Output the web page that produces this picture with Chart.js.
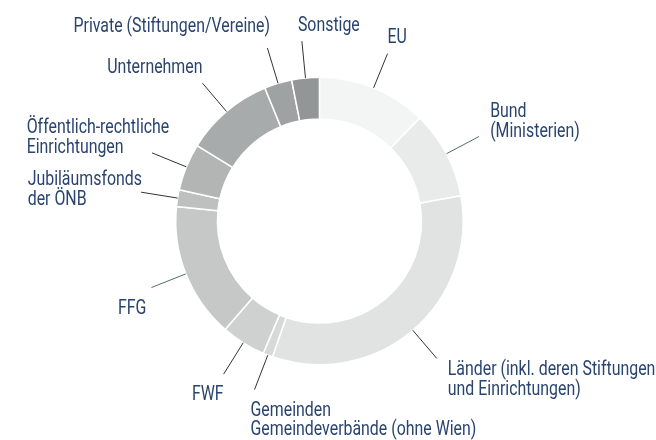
<!DOCTYPE html>
<html>
<head>
<meta charset="utf-8">
<script src="https://cdn.jsdelivr.net/npm/chart.js@4.4.1/dist/chart.umd.min.js"></script>
<style>
  html, body { margin: 0; padding: 0; background: #ffffff; }
  #wrap { width: 656px; height: 440px; position: relative; }
</style>
</head>
<body>
<div id="wrap"><canvas id="c" width="656" height="440"></canvas></div>
<script>
// ---- data ----
const categories = [
  "EU",
  "Bund (Ministerien)",
  "Länder (inkl. deren Stiftungen und Einrichtungen)",
  "Gemeinden Gemeindeverbände (ohne Wien)",
  "FWF",
  "FFG",
  "Jubiläumsfonds der ÖNB",
  "Öffentlich-rechtliche Einrichtungen",
  "Unternehmen",
  "Private (Stiftungen/Vereine)",
  "Sonstige"
];
const labelLines = [
  ["EU"],
  ["Bund", "(Ministerien)"],
  ["Länder (inkl. deren Stiftungen", "und Einrichtungen)"],
  ["Gemeinden", "Gemeindeverbände (ohne Wien)"],
  ["FWF"],
  ["FFG"],
  ["Jubiläumsfonds", "der ÖNB"],
  ["Öffentlich-rechtliche", "Einrichtungen"],
  ["Unternehmen"],
  ["Private (Stiftungen/Vereine)"],
  ["Sonstige"]
];
const shares = [12.3, 9.9, 33.1, 1.1, 5.0, 15.2, 1.9, 5.3, 10.0, 3.1, 3.1];

// ---- styles ----
const sliceColors = ["#f3f4f4", "#e9eaea", "#e1e2e2", "#d7d9d9", "#cfd1d1", "#c6c8c8",
                     "#bec0c0", "#b3b5b5", "#a8abab", "#9fa2a2", "#939696"];
const leaderColors = ["#333333", "#56705c", "#333333", "#333333", "#333333", "#56705c",
                      "#333333", "#333333", "#333333", "#333333", "#333333"];
// text placement relative to end of leader line: [align, dx, dy(first baseline)]
const labelPlacement = [
  ["left", 0, -11],
  ["left", 11, -19],
  ["left", 11, 16.5],
  ["left", -4, 26],
  ["right", 0, 25.5],
  ["right", -5, 26],
  ["left", -113.4, -7],
  ["left", -125.4, -20],
  ["right", 0, -10],
  ["right", 2.6, -16],
  ["left", -4, -10]
];
const FONT_SIZE = 20;
const LINE_H = 19.8;
const SCALE_X = 0.795;
const LEADER_LEN = 37;
const TEXT_COLOR = "#2a4470";

const leaderPlugin = {
  id: 'leaders',
  afterDatasetsDraw(chart) {
    const ctx = chart.ctx;
    const meta = chart.getDatasetMeta(0);
    ctx.save();
    meta.data.forEach((arc, i) => {
      const p = arc.getProps(['x', 'y', 'startAngle', 'endAngle', 'outerRadius'], true);
      const a = (p.startAngle + p.endAngle) / 2;
      const r0 = p.outerRadius;
      const x0 = p.x + Math.cos(a) * r0, y0 = p.y + Math.sin(a) * r0;
      const x1 = p.x + Math.cos(a) * (r0 + LEADER_LEN), y1 = p.y + Math.sin(a) * (r0 + LEADER_LEN);
      ctx.beginPath();
      ctx.moveTo(x0, y0);
      ctx.lineTo(x1, y1);
      ctx.strokeStyle = leaderColors[i];
      ctx.lineWidth = 1;
      ctx.stroke();
      const [align, dx, dy] = labelPlacement[i];
      ctx.fillStyle = TEXT_COLOR;
      ctx.font = FONT_SIZE + "px Roboto, 'Liberation Sans', sans-serif";
      ctx.textAlign = align;
      ctx.textBaseline = "alphabetic";
      labelLines[i].forEach((line, k) => {
        ctx.save();
        ctx.translate(x1 + dx, y1 + dy + k * LINE_H);
        ctx.scale(SCALE_X, 1);
        ctx.fillText(line, 0, 0);
        ctx.restore();
      });
    });
    ctx.restore();
  }
};

new Chart(document.getElementById('c'), {
  type: 'doughnut',
  data: {
    labels: categories,
    datasets: [{
      data: shares,
      backgroundColor: sliceColors,
      borderColor: "#ffffff",
      borderWidth: 1.5,
      hoverOffset: 0
    }]
  },
  options: {
    responsive: false,
    devicePixelRatio: 1,
    animation: false,
    cutout: '71%',
    layout: { padding: { left: 175, right: 192.1, top: 76.55, bottom: 74.55 } },
    plugins: { legend: { display: false }, tooltip: { enabled: false } },
    events: []
  },
  plugins: [leaderPlugin]
});
</script>
</body>
</html>
